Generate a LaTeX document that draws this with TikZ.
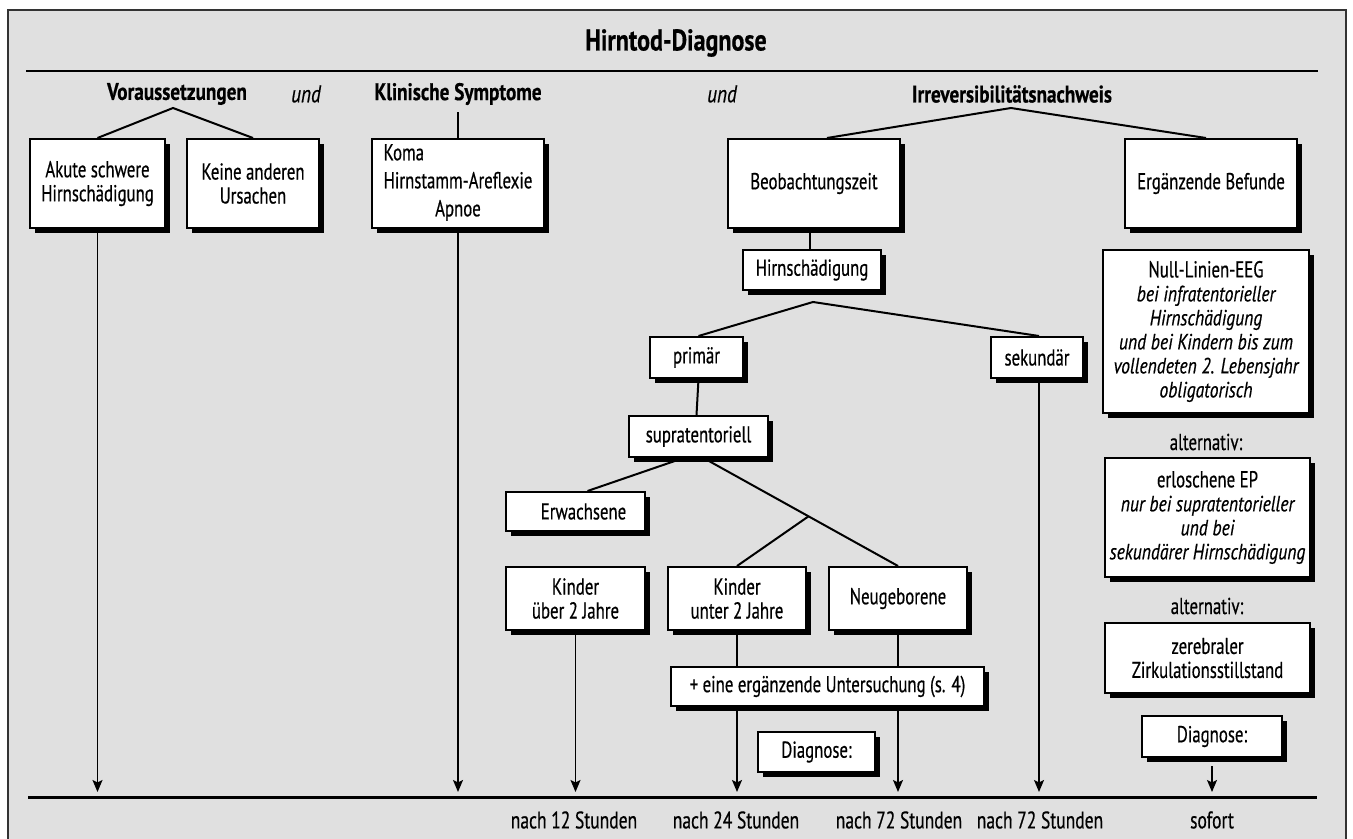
\documentclass[tikz,border=0pt]{standalone}
\usepackage{fontspec}
\setmainfont{PT Sans}[FakeStretch=0.73,FakeBold=0.5,
  BoldFeatures={FakeStretch=0.8},
  ItalicFeatures={FakeStretch=0.8}]
\usetikzlibrary{arrows.meta}
\usetikzlibrary{shadows}

\definecolor{panelGrey}{HTML}{E0E0E0}
\newcommand{\noteIt}[1]{{\fontsize{11}{12}\selectfont\itshape #1}}

\begin{document}
\begin{tikzpicture}[%%
  x=0.5pt,y=-0.5pt,
  boxStyle/.style={draw,fill=white,line width=1pt,align=center,inner sep=0pt,
    font=\fontsize{11.5}{12}\selectfont,
    drop shadow={shadow xshift=2.5pt,shadow yshift=-2.5pt,fill=black,opacity=1}},%%
  boxSize/.style 2 args={minimum width=#1*0.5pt,minimum height=#2*0.5pt},%%
  lineStyle/.style={-,line width=1pt},%%
  arrowStyle/.style={-{Stealth[length=6pt,width=5pt,inset=1.2pt]},line width=0.8pt},%%
  titleStyle/.style={font=\fontsize{15}{17}\selectfont\bfseries},%%
  headStyle/.style={font=\fontsize{12}{14}\selectfont\bfseries},%%
  undStyle/.style={font=\fontsize{12}{14}\selectfont\itshape},%%
  textStyle/.style={font=\fontsize{11.5}{13}\selectfont},%%
  timeStyle/.style={font=\fontsize{12}{14}\selectfont}%%
]
%%
\useasboundingbox (0,0) rectangle (1353,839);
%%
%% Panel with frame, open at the bottom.
\fill[panelGrey] (8,10) rectangle (1346,860);
\draw[line width=0.7pt,black!80] (8,860) -- (8,10) -- (1346,10) -- (1346,860);
%%
%% Title and rule.
\node[titleStyle] (title) at (676,43) {Hirntod-Diagnose};
\draw[line width=0.8pt] (26,71) -- (1318,71);
%%
%% Column heads.
\node[headStyle] (vor) at (177,94) {Voraussetzungen};
\node[undStyle] (undA) at (306,94) {und};
\node[headStyle] (klin) at (458,94) {Klinische Symptome};
\node[undStyle] (undB) at (722,94) {und};
\node[headStyle] (irr) at (1012,94) {Irreversibilitätsnachweis};
%%
\coordinate (vorTop) at (173,108);
\coordinate (irrTop) at (1011,108);
\coordinate (hirnFork) at (813,302);
\coordinate (tlL) at (28,797);
\coordinate (tlR) at (1317,797);
\coordinate (tip) at (0,792);
%%
%% First row of boxes.
\node[boxStyle,boxSize={135}{89}] (akute) at (97.5,183.5) {Akute schwere\\Hirnschädigung};
\node[boxStyle,boxSize={132}{89}] (keine) at (253,183.5) {Keine anderen\\Ursachen};
\node[boxStyle,boxSize={172}{89}] (koma) at (458,183.5)
  {\begin{tabular}{@{}c@{}}\multicolumn{1}{@{}l@{}}{Koma}\\[2pt]Hirnstamm-Areflexie\\[2pt]Apnoe\end{tabular}};
\node[boxStyle,boxSize={172}{89}] (beob) at (814,183.5) {Beobachtungszeit};
\node[boxStyle,boxSize={172}{89}] (ergbef) at (1211,183.5) {Ergänzende Befunde};
%%
%% Observation time.
\node[boxStyle,boxSize={138}{40}] (hirn) at (812,270) {Hirnschädigung};
\node[boxStyle,boxSize={93}{41}] (primaer) at (696.5,357.5) {primär};
\node[boxStyle,boxSize={92}{41}] (sekundaer) at (1037,357.5) {sekundär};
\node[boxStyle,boxSize={139}{41}] (supra) at (698.5,436.5) {supratentoriell};
\node[boxStyle,boxSize={139}{39}] (erw) at (575.5,511.5) {\hspace*{8pt}Erwachsene};
\node[boxStyle,boxSize={139}{63}] (kueber) at (575.5,598.5) {Kinder\\über 2 Jahre};
\node[boxStyle,boxSize={138}{63}] (kunter) at (737,598.5) {Kinder\\unter 2 Jahre};
\node[boxStyle,boxSize={138}{63}] (neug) at (898,598.5) {Neugeborene};
\node[boxStyle,boxSize={313}{39}] (ergunt) at (827.5,686.5) {+ eine ergänzende Untersuchung (s. 4)};
\node[boxStyle,boxSize={117}{40}] (diagA) at (816.5,752) {Diagnose:};
%%
%% Additional findings.
\node[boxStyle,boxSize={206}{163}] (nulleeg) at (1206,331.5)
  {Null-Linien-EEG\\\noteIt{bei infratentorieller}\\\noteIt{Hirnschädigung}\\
   \noteIt{und bei Kindern bis zum}\\\noteIt{vollendeten 2. Lebensjahr}\\\noteIt{obligatorisch}};
\node[textStyle] (altA) at (1206,442) {alternativ:};
\node[boxStyle,boxSize={205}{119}] (erlo) at (1207.5,517.5)
  {erloschene EP\\\noteIt{nur bei supratentorieller}\\\noteIt{und bei}\\\noteIt{sekundärer Hirnschädigung}};
\node[textStyle] (altB) at (1207,606) {alternativ:};
\node[boxStyle,boxSize={205}{70}] (zereb) at (1207.5,658) {zerebraler\\Zirkulationsstillstand};
\node[boxStyle,boxSize={140}{41}] (diagB) at (1212,736.5) {Diagnose:};
%%
%% Tree lines.
\draw[lineStyle] (akute.north) -- (vorTop) -- (keine.north);
\draw[lineStyle] (klin.south) -- (koma.north);
\draw[lineStyle] ([xshift=6.5pt]beob.north) -- (irrTop) -- ([xshift=-2.5pt]ergbef.north);
\draw[lineStyle] ([xshift=-2pt]beob.south) -- ([xshift=-1pt]hirn.north);
\draw[lineStyle] ([xshift=1pt]primaer.north) -- (hirnFork) -- ([xshift=1pt]sekundaer.north);
\draw[lineStyle] ([xshift=1pt]primaer.south) -- (primaer.south |- supra.north);
\draw[lineStyle] ([xshift=-7.5pt]supra.south) -- ([xshift=6pt]erw.north);
\draw[lineStyle] ([xshift=2.5pt]supra.south) -- coordinate[pos=0.54] (kJunc) (neug.north);
\draw[lineStyle] (kJunc) -- (kunter.north);
\draw[lineStyle] (kunter.south) -- (kunter.south |- ergunt.north);
\draw[lineStyle] (neug.south) -- (neug.south |- ergunt.north);
%%
%% Arrows down to the time line.
\draw[arrowStyle] (akute.south) -- (akute.south |- tip);
\draw[arrowStyle] (koma.south) -- (koma.south |- tip);
\draw[arrowStyle] (kueber.south) -- (kueber.south |- tip);
\draw[arrowStyle] (ergunt.south -| kunter.south) -- (kunter.south |- tip);
\draw[arrowStyle] (ergunt.south -| neug.south) -- (neug.south |- tip);
\draw[arrowStyle] ([xshift=1pt]sekundaer.south) -- ([xshift=1pt]sekundaer.south |- tip);
\draw[arrowStyle,shorten <=4pt] (diagB.south) -- (diagB.south |- tip);
%%
%% Time line with its labels.
\draw[line width=1.5pt] (tlL) -- (tlR);
\node[timeStyle] (tA) at (574,820) {nach 12 Stunden};
\node[timeStyle] (tB) at (736,820) {nach 24 Stunden};
\node[timeStyle] (tC) at (899,820) {nach 72 Stunden};
\node[timeStyle] (tD) at (1040,820) {nach 72 Stunden};
\node[timeStyle] (tE) at (1212,820) {sofort};
\end{tikzpicture}
\end{document}
